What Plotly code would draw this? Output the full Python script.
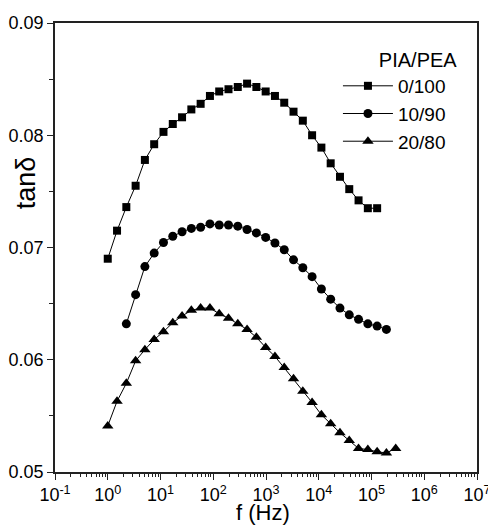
import plotly.graph_objects as go

# frequencies (Hz) for each series
f_sq = [1, 1.5, 2.25, 3.375, 5.06, 7.59, 11.39, 17.09, 25.63, 38.44, 57.67, 86.5, 129.7, 194.6,
        291.9, 437.9, 656.8, 985.3, 1478, 2217, 3325, 4988, 7482, 11223, 16834, 25251, 37877,
        56815, 85223, 127834]
tan_sq = [0.0690, 0.0715, 0.0736, 0.0755, 0.0778, 0.0792, 0.0803, 0.0810, 0.0816, 0.0823,
          0.0828, 0.0835, 0.0839, 0.0841, 0.0843, 0.0846, 0.0843, 0.0839, 0.0835, 0.0829,
          0.0821, 0.0813, 0.0800, 0.0789, 0.0775, 0.0763, 0.0752, 0.0742, 0.0735, 0.0735]

f_ci = [2.25, 3.375, 5.06, 7.59, 11.39, 17.09, 25.63, 38.44, 57.67, 86.5, 129.7, 194.6,
        291.9, 437.9, 656.8, 985.3, 1478, 2217, 3325, 4988, 7482, 11223, 16834, 25251, 37877,
        56815, 85223, 127834, 191751]
tan_ci = [0.0632, 0.0658, 0.0683, 0.0695, 0.07045, 0.0710, 0.0714, 0.0717, 0.0718, 0.0721,
          0.0720, 0.0720, 0.0719, 0.0716, 0.0713, 0.0709, 0.0704, 0.0698, 0.0689, 0.0682,
          0.0674, 0.0663, 0.0654, 0.0646, 0.0640, 0.0636, 0.0632, 0.0630, 0.0627]

f_tr = [1, 1.5, 2.25, 3.375, 5.06, 7.59, 11.39, 17.09, 25.63, 38.44, 57.67, 86.5, 129.7, 194.6,
        291.9, 437.9, 656.8, 985.3, 1478, 2217, 3325, 4988, 7482, 11223, 16834, 25251, 37877,
        56815, 85223, 127834, 191751, 287627]
tan_tr = [0.0541, 0.0563, 0.0579, 0.0599, 0.0609, 0.0618, 0.0625, 0.0633, 0.0639, 0.0644,
          0.0646, 0.0646, 0.0641, 0.0637, 0.0632, 0.0627, 0.0620, 0.0611, 0.0603, 0.0593,
          0.0583, 0.0572, 0.0562, 0.0551, 0.0543, 0.0535, 0.0528, 0.0521, 0.0520, 0.0518,
          0.0517, 0.0521]

names = ["0/100", "10/90", "20/80"]
symbols = ["square", "circle", "triangle-up"]
sizes = [8, 9, 10]

x_tickvals = [0.1, 1, 10, 100, 1e3, 1e4, 1e5, 1e6, 1e7]
x_ticktext = ["10<sup>-1</sup>", "10<sup>0</sup>", "10<sup>1</sup>", "10<sup>2</sup>",
              "10<sup>3</sup>", "10<sup>4</sup>", "10<sup>5</sup>", "10<sup>6</sup>",
              "10<sup>7</sup>"]

FONT = "Liberation Sans, Arial, sans-serif"
AX = "#222222"

fig = go.Figure()
for fx, ty, nm, sym, sz in zip([f_sq, f_ci, f_tr], [tan_sq, tan_ci, tan_tr], names, symbols, sizes):
    fig.add_trace(go.Scatter(
        x=fx, y=ty, name=nm, mode="lines+markers",
        line=dict(color="black", width=1),
        marker=dict(symbol=sym, size=sz, color="black"),
    ))

fig.update_layout(
    width=488, height=525,
    margin=dict(l=55, r=11, t=23, b=53, autoexpand=False),
    paper_bgcolor="white", plot_bgcolor="white",
    font=dict(family=FONT, size=18, color="black"),
    showlegend=True,
    legend=dict(
        x=0.6705, y=0.96, xanchor="left", yanchor="top",
        bgcolor="rgba(0,0,0,0)", borderwidth=0,
        title=dict(text="\u00a0\u00a0\u00a0\u00a0\u00a0\u00a0\u00a0PIA/PEA", side="top",
                   font=dict(size=20)),
        font=dict(size=19), tracegroupgap=0, itemwidth=50,
    ),
    xaxis=dict(
        type="log", range=[-1, 7], tickvals=x_tickvals, ticktext=x_ticktext,
        showgrid=False, zeroline=False, ticklabeloverflow="allow", automargin=False,
        showline=True, linecolor=AX, linewidth=1.5, mirror=True,
        ticks="outside", ticklen=6, tickwidth=1.2, tickcolor=AX,
        minor=dict(ticks="outside", ticklen=3, tickwidth=1, tickcolor=AX, dtick="D1", showgrid=False),
        tickfont=dict(size=18),
    ),
    yaxis=dict(
        range=[0.05, 0.09], dtick=0.01, tickformat=".2f",
        showgrid=False, zeroline=False, automargin=False,
        showline=True, linecolor=AX, linewidth=1.5, mirror=True,
        ticks="outside", ticklen=6, tickwidth=1.2, tickcolor=AX,
        minor=dict(ticks="outside", ticklen=4, tickwidth=1, tickcolor=AX, dtick=0.005, showgrid=False),
        tickfont=dict(size=18),
    ),
    xaxis2=dict(
        type="log", range=[-1, 7], dtick=1, overlaying="x", side="top", anchor="y",
        showgrid=False, zeroline=False, showline=False, showticklabels=False, automargin=False,
        ticks="inside", ticklen=6, tickwidth=1.2, tickcolor=AX,
        minor=dict(ticks="inside", ticklen=3, tickwidth=1, tickcolor=AX, dtick="D1", showgrid=False),
    ),
    yaxis2=dict(
        range=[0.05, 0.09], dtick=0.01, overlaying="y", side="right", anchor="x",
        showgrid=False, zeroline=False, showline=False, showticklabels=False, automargin=False,
        ticks="inside", ticklen=6, tickwidth=1.2, tickcolor=AX,
        minor=dict(ticks="inside", ticklen=4, tickwidth=1, tickcolor=AX, dtick=0.005, showgrid=False),
    ),
    annotations=[
        dict(text="tanδ", xref="paper", yref="paper", x=-0.0687, y=0.643,
             xanchor="center", yanchor="middle", textangle=-90, showarrow=False,
             font=dict(size=27, family=FONT, color="black")),
        dict(text="f (Hz)", xref="paper", yref="paper", x=0.493, y=-0.09,
             xanchor="center", yanchor="middle", showarrow=False,
             font=dict(size=22, family=FONT, color="black")),
    ],
)

fig.write_html("out.html", config={"displayModeBar": False},
               post_script="document.body.style.margin='0';document.body.style.overflow='hidden';")
